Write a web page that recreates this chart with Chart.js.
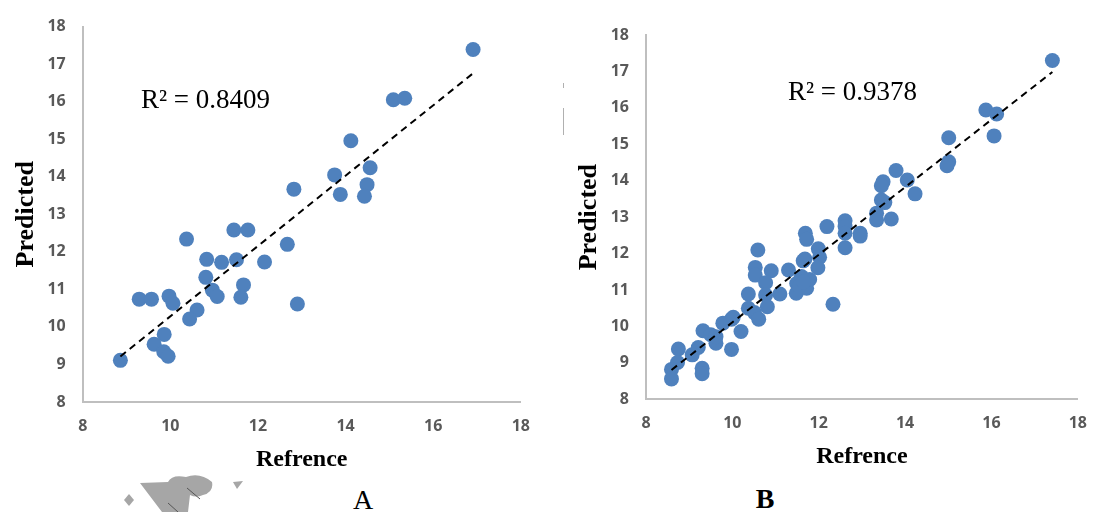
<!DOCTYPE html>
<html><head><meta charset="utf-8">
<script src="https://cdn.jsdelivr.net/npm/chart.js@4.4.1/dist/chart.umd.min.js"></script>
<style>
html,body{margin:0;padding:0;background:#fff;width:1102px;height:512px;overflow:hidden;position:relative;}
.box{position:absolute;}
.lbl{position:absolute;font-family:"Liberation Serif","Times New Roman",serif;color:#000;white-space:nowrap;}
</style></head><body>
<div class="box" style="left:0;top:0;width:545px;height:475px"><canvas id="cA" width="545" height="475" style="width:545px;height:475px"></canvas></div>
<div class="box" style="left:560px;top:0;width:542px;height:475px"><canvas id="cB" width="542" height="475" style="width:542px;height:475px"></canvas></div>
<div class="lbl" id="r2A" style="left:141px;top:86px;font-size:27px;line-height:27px"></div>
<div class="lbl" id="r2B" style="left:788px;top:78px;font-size:27px;line-height:27px"></div>
<div class="lbl" id="capA" style="left:343px;top:486px;width:40px;text-align:center;font-size:28px;line-height:28px"></div>
<div class="lbl" id="capB" style="left:745px;top:485px;width:40px;text-align:center;font-size:28px;line-height:28px;font-weight:bold"></div>
<svg style="position:absolute;left:0;top:0" width="1102" height="512">
  <path fill="#A6A6A6" d="M124 500 L129 494 L134 500 L129 506 Z"/>
  <path fill="#A6A6A6" d="M140 483 L168 482 Q172 474 186 477 Q200 472 212 482 Q214 492 203 495 Q196 498 190 495 L188 512 L162 512 Z"/>
  <path fill="#A6A6A6" d="M233 482 L243 481 L237 489 Z"/>
  <path stroke="#555" stroke-width="1" fill="none" d="M187 488 L200 499 M168 503 L178 512"/>
  <path stroke="#B0B0B0" stroke-width="1" fill="none" d="M563.5 83 L563.5 88 M563.5 108 L563.5 135"/>
</svg>
<script>
// ---- data ----
const xTicks = [8, 10, 12, 14, 16, 18];
const yTicks = [8, 9, 10, 11, 12, 13, 14, 15, 16, 17, 18];
const refA  = [16.91,15.09,15.35,14.12,13.75,14.56,14.49,14.43,13.88,12.82,11.45,11.77,10.37,12.67,10.83,11.17,11.51,12.15,10.81,11.67,10.96,11.07,11.61,9.29,9.57,9.97,10.06,12.90,10.61,10.44,9.86,9.63,9.85,9.95,8.86];
const predA = [17.39,16.05,16.09,14.96,14.05,14.24,13.79,13.48,13.53,13.67,12.58,12.58,12.34,12.20,11.80,11.72,11.79,11.73,11.32,11.12,10.98,10.81,10.79,10.74,10.74,10.82,10.63,10.61,10.45,10.21,9.80,9.54,9.34,9.22,9.11];
const refB  = [17.41,15.87,16.12,16.06,15.01,15.01,14.97,13.79,14.05,14.23,13.49,13.45,13.45,13.53,13.34,13.34,13.68,12.61,12.61,12.61,12.61,12.19,12.96,12.96,11.69,11.72,11.99,12.02,11.98,11.68,10.59,10.53,10.53,10.90,11.30,10.77,10.77,10.81,11.10,11.48,11.49,11.72,11.79,11.60,10.37,10.37,10.51,10.61,12.33,9.98,9.78,10.20,9.32,9.50,9.62,9.21,9.07,9.98,8.75,8.73,8.59,8.59,9.30,9.30,11.64,11.55,11.65,9.62,10.02];
const predB = [17.30,15.94,15.83,15.23,15.18,14.52,14.41,14.28,14.02,13.64,13.97,13.86,13.47,13.40,13.11,12.92,12.95,12.90,12.74,12.56,12.16,12.74,12.56,12.48,12.56,12.39,12.13,11.90,11.61,11.85,12.10,11.62,11.41,11.53,11.55,11.20,10.86,10.54,10.89,10.91,11.18,11.05,11.29,11.37,10.89,10.50,10.38,10.20,10.61,10.20,10.09,9.86,9.88,9.77,9.54,9.42,9.22,9.37,9.38,9.01,8.82,8.56,8.85,8.70,11.80,11.10,11.22,9.72,10.25];
const r2Texts = ["R² = 0.8409", "R² = 0.9378"];
const captions = ["A", "B"];
const xTitle = "Refrence";
const yTitle = "Predicted";

document.getElementById('r2A').textContent = r2Texts[0];
document.getElementById('r2B').textContent = r2Texts[1];
document.getElementById('capA').textContent = captions[0];
document.getElementById('capB').textContent = captions[1];

function fitLine(xs, ys) {
  const n = xs.length;
  const mx = xs.reduce((a,b)=>a+b,0)/n, my = ys.reduce((a,b)=>a+b,0)/n;
  let sxy = 0, sxx = 0;
  for (let i=0;i<n;i++){ sxy += (xs[i]-mx)*(ys[i]-my); sxx += (xs[i]-mx)*(xs[i]-mx); }
  const b = sxy/sxx, a = my - b*mx;
  const x0 = Math.min(...xs), x1 = Math.max(...xs);
  return [{x:x0, y:a+b*x0}, {x:x1, y:a+b*x1}];
}

function makeChart(id, xs, ys, L) {
  const pts = xs.map((x,i)=>({x, y: ys[i]}));
  const tickFont = {family: '"Open Sans", sans-serif', weight: 'bold', size: 16};
  return new Chart(document.getElementById(id), {
    type: 'scatter',
    data: { datasets: [
      { data: fitLine(xs, ys), showLine: true, borderColor: '#000', borderWidth: 2, borderDash: [7,5], pointRadius: 0, fill: false },
      { data: pts, pointRadius: 7.5, pointHoverRadius: 7.5, backgroundColor: '#4F81BD', borderWidth: 0 }
    ]},
    options: {
      responsive: false, animation: false, events: [],
      layout: { padding: { top: L.top, right: L.right, left: 0, bottom: 0 } },
      plugins: { legend: {display:false}, tooltip: {enabled:false} },
      scales: {
        x: {
          type: 'linear', min: 8, max: 18,
          afterBuildTicks: s => { s.ticks = xTicks.map(v=>({value:v})); },
          afterFit: s => { s.height = L.xh; },
          grid: { display: false, drawTicks: false },
          border: { display: true, color: '#BFBFBF', width: 2 },
          ticks: { color: '#595959', font: tickFont, padding: L.xpad, maxRotation: 0 },
          title: { display: true, text: xTitle, color: '#000',
                   font: {family: '"Liberation Serif", serif', weight: 'bold', size: 24, lineHeight: 1.2},
                   padding: {top: 0, bottom: L.xtb} }
        },
        y: {
          type: 'linear', min: 8, max: 18,
          afterBuildTicks: s => { s.ticks = yTicks.map(v=>({value:v})); },
          afterFit: s => { s.width = L.yw; },
          grid: { display: false, drawTicks: false },
          border: { display: true, color: '#BFBFBF', width: 2 },
          ticks: { color: '#595959', font: tickFont, padding: L.ypad },
          title: { display: true, text: yTitle, color: '#000',
                   font: {family: '"Liberation Serif", serif', weight: 'bold', size: 26, lineHeight: 1.2},
                   padding: {top: L.ytp, bottom: 0} }
        }
      }
    }
  });
}

makeChart('cA', refA, predA, {top: 19.5, right: 22, xh: 73, yw: 82.7, xpad: 15, ypad: 17, xtb: 0.6, ytp: 11});
makeChart('cB', refB, predB, {top: 35, right: 10.5, xh: 75.7, yw: 86, xpad: 15, ypad: 17, xtb: 3.9, ytp: 14});
</script>
</body></html>
